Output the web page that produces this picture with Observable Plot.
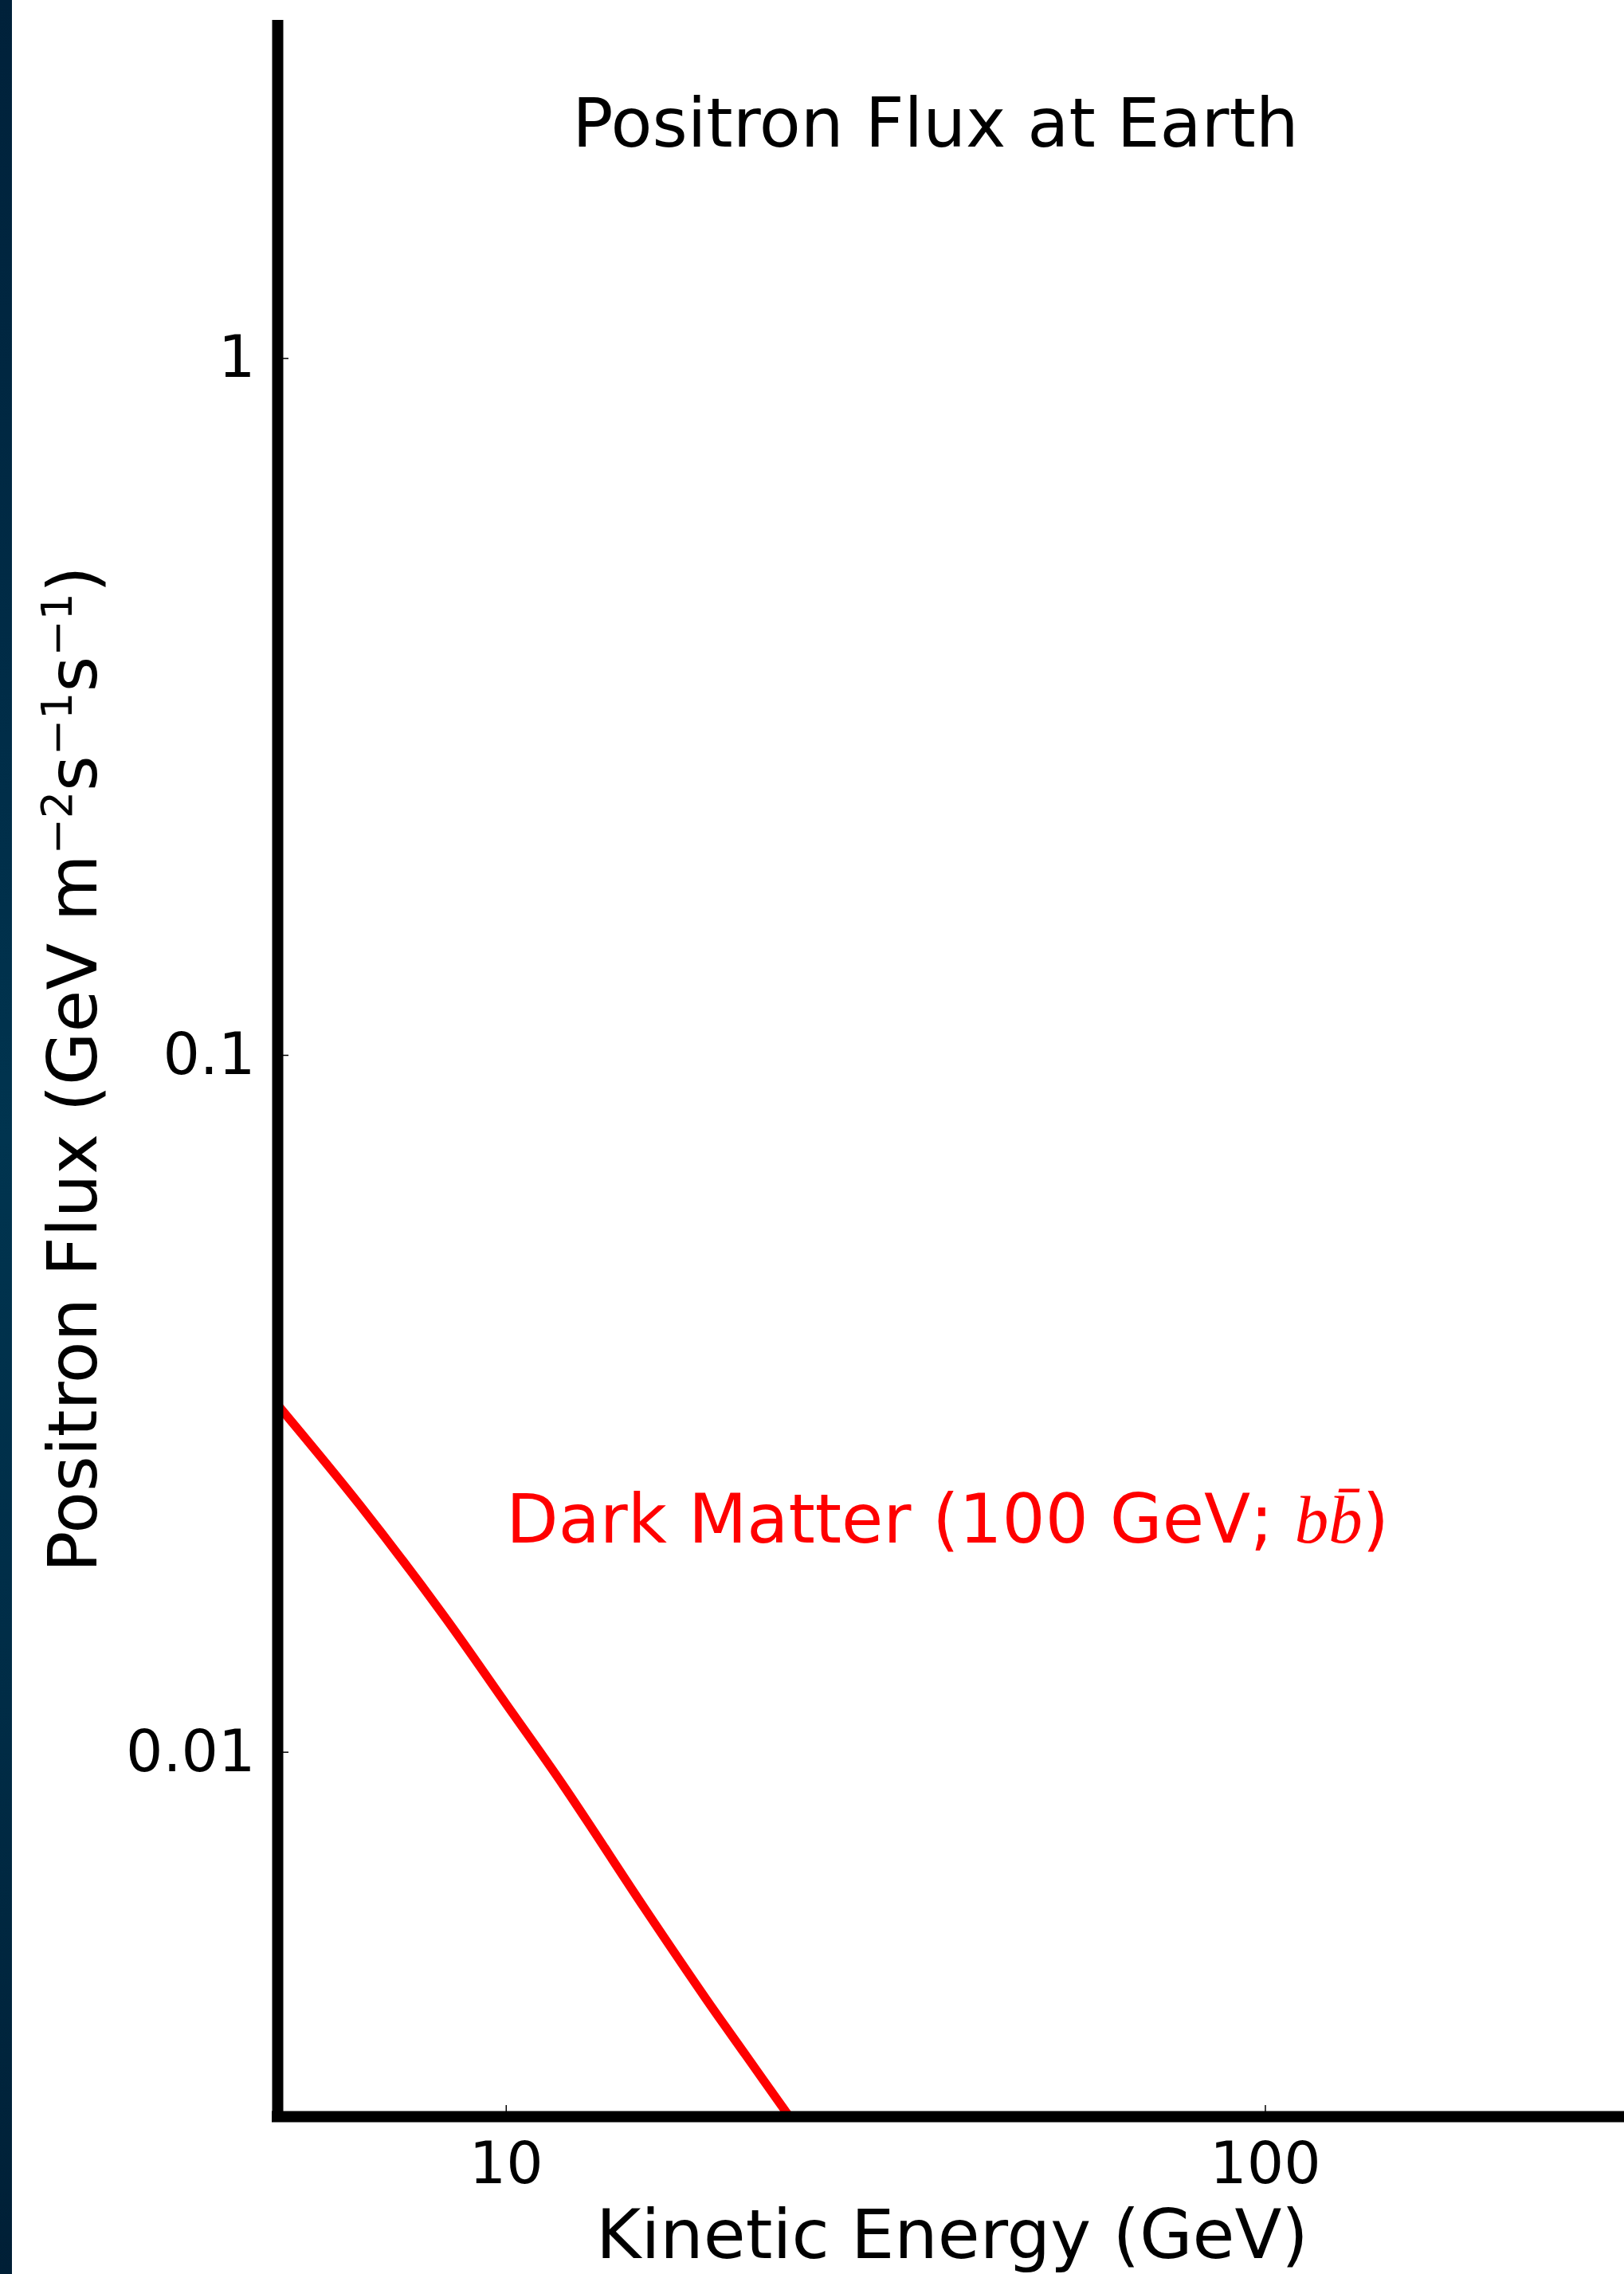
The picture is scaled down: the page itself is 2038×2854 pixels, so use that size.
<!DOCTYPE html>
<html>
<head>
<meta charset="utf-8">
<script src="https://cdn.jsdelivr.net/npm/d3@7"></script>
<script src="https://cdn.jsdelivr.net/npm/@observablehq/plot@0.6"></script>
<style>
html, body { margin: 0; padding: 0; background: #fff; }
#wrap { position: relative; width: 2038px; height: 2854px; overflow: hidden; background: #fff; }
#wrap svg { position: absolute; left: 0; top: 0; }
#strip { position: absolute; left: 0; top: 0; width: 15px; height: 2854px;
  background: linear-gradient(#00213a 0%, #002c47 30%, #00344f 50%, #002c46 75%, #001f36 100%); }
</style>
</head>
<body>
<div id="wrap"></div>
<script>
// ---- data ----
const energy = [5.0, 6.42, 8.22, 10.0, 11.9, 15.2, 18.35, 20.7, 23.6];      // GeV
const flux   = [0.0315, 0.0226, 0.01586, 0.01172, 0.00895, 0.00598, 0.00442, 0.00367, 0.0030];
const xTicks = [10, 100];
const yTicks = [1, 0.1, 0.01];
const xDomain = [5, 300];
const yDomain = [0.003, 3];
const seriesLabel = "Dark Matter (100 GeV; ";
const seriesLabelAt = [{x: 10, y: 0.02}];
const titleText = "Positron Flux at Earth";
const xLabelText = "Kinetic Energy (GeV)";

const data = energy.map((e, i) => ({energy: e, flux: flux[i]}));

const W = 2038, H = 2854;
const spine = {stroke: "#000", strokeWidth: 14, strokeLinecap: "square"};

const svg = Plot.plot({
  width: W,
  height: H,
  marginLeft: 348,
  marginRight: 0,
  marginTop: 32,
  marginBottom: 198,
  style: {fontFamily: "DejaVu Sans", background: "transparent", color: "#000", overflow: "visible"},
  x: {type: "log", domain: xDomain, range: [348, 2042]},
  y: {type: "log", domain: yDomain},
  marks: [
    Plot.line(data, {x: "energy", y: "flux", stroke: "#ff0000", strokeWidth: 11, curve: "catmull-rom", clip: true}),
    Plot.text(seriesLabelAt, {x: "x", y: "y", text: () => seriesLabel, fill: "#ff0000", fontSize: 85,
      textAnchor: "start", lineAnchor: "bottom"}),
    // inward ticks
    Plot.axisX(xTicks, {tickSize: 14, dy: -14, fill: "none", stroke: "#000", strokeWidth: 1.5, label: null}),
    Plot.axisY(yTicks, {tickSize: 14, dx: 14, fill: "none", stroke: "#000", strokeWidth: 1.5, label: null}),
    // tick labels
    Plot.axisX(xTicks, {tickSize: 0, tickPadding: 32, fontSize: 73, fill: "#000", tickFormat: d => String(d), label: null}),
    Plot.axisY(yTicks, {tickSize: 0, tickPadding: 28, fontSize: 73, fill: "#000", tickFormat: d => String(d), label: null}),
    // spines
    Plot.ruleX([xDomain[0]], spine),
    Plot.ruleY([yDomain[0]], spine)
  ]
});

document.getElementById("wrap").appendChild(svg);
const strip = document.createElement("div");
strip.id = "strip";
document.getElementById("wrap").appendChild(strip);

const s = d3.select(svg);

// b b-bar in italic serif, appended to the red label
const lab = [...svg.querySelectorAll("text")].find(e => e.textContent === seriesLabel);
if (lab) {
  const L = d3.select(lab);
  const serif = "'Liberation Serif', 'DejaVu Serif', serif";
  L.append("tspan").attr("font-family", serif).attr("font-style", "italic").text("b");
  L.append("tspan").attr("font-family", serif).attr("font-style", "italic").text("b\u0304");
  L.append("tspan").text(")");
}

// title
s.append("text")
  .attr("x", 1174).attr("y", 184)
  .attr("text-anchor", "middle")
  .attr("font-size", 85)
  .attr("fill", "#000")
  .text(titleText);

// x label
s.append("text")
  .attr("x", 1195).attr("y", 2834)
  .attr("text-anchor", "middle")
  .attr("font-size", 86)
  .attr("fill", "#000")
  .text(xLabelText);

// y label with superscripts
const yl = s.append("text")
  .attr("transform", "translate(121,1342) rotate(-90)")
  .attr("text-anchor", "middle")
  .attr("font-size", 86)
  .attr("fill", "#000");
yl.append("tspan").text("Positron Flux (GeV m");
yl.append("tspan").attr("dy", -31).attr("font-size", 54).text("\u22122");
yl.append("tspan").attr("dy", 31).text("s");
yl.append("tspan").attr("dy", -31).attr("font-size", 54).text("\u22121");
yl.append("tspan").attr("dy", 31).text("s");
yl.append("tspan").attr("dy", -31).attr("font-size", 54).text("\u22121");
yl.append("tspan").attr("dy", 31).text(")");
</script>
</body>
</html>
